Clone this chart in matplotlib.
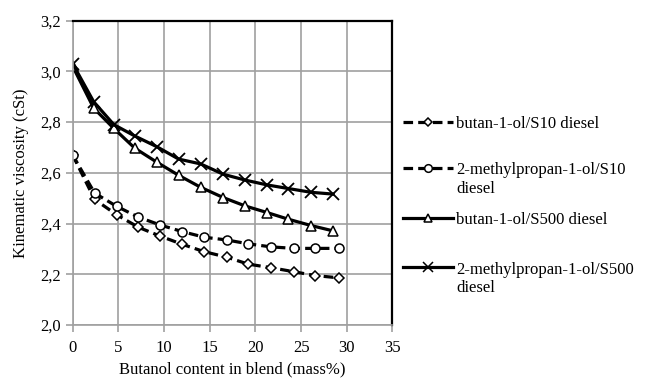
import matplotlib.pyplot as plt
from matplotlib.lines import Line2D
import numpy as np

plt.rcParams['font.family'] = ['Liberation Serif', 'DejaVu Serif']

# butanol content (mass%) and kinematic viscosity (cSt)
x_s10 = [0, 2.4, 4.8, 7.2, 9.6, 12.0, 14.4, 16.9, 19.2, 21.7, 24.2, 26.5, 29.1]
butanol_s10 = [2.67, 2.495, 2.435, 2.385, 2.35, 2.318, 2.289, 2.267, 2.240, 2.226, 2.210, 2.195, 2.186]
isobutanol_s10 = [2.67, 2.52, 2.468, 2.425, 2.394, 2.368, 2.346, 2.335, 2.320, 2.308, 2.302, 2.302, 2.302]

x_s500 = [0, 2.3, 4.5, 6.8, 9.2, 11.6, 14.0, 16.5, 18.9, 21.3, 23.6, 26.1, 28.5]
butanol_s500 = [3.02, 2.855, 2.775, 2.697, 2.642, 2.590, 2.543, 2.502, 2.469, 2.443, 2.417, 2.392, 2.371]
isobutanol_s500 = [3.03, 2.88, 2.79, 2.745, 2.703, 2.654, 2.635, 2.594, 2.571, 2.552, 2.538, 2.523, 2.516]

labels = ['butan-1-ol/S10 diesel', '2-methylpropan-1-ol/S10\ndiesel',
          'butan-1-ol/S500 diesel', '2-methylpropan-1-ol/S500\ndiesel']

W, H = 646, 381
fig = plt.figure(figsize=(W / 100, H / 100), dpi=100)
ax = fig.add_axes([0.1125, 0.147, 0.495, 0.799])

grid_c = '#a0a0a0'
dash = (0, (3, 1.6))
styles = [
    dict(ls=dash, marker='D', ms=5.5, mfc='white'),
    dict(ls=dash, marker='o', ms=6.5, mfc='white'),
    dict(ls='-', marker='^', ms=6.5, mfc='white'),
    dict(ls='-', marker='x', ms=8),
]
series = [(x_s10, butanol_s10), (x_s10, isobutanol_s10),
          (x_s500, butanol_s500), (x_s500, isobutanol_s500)]
for (xs, ys), st in zip(series, styles):
    ax.plot(xs, ys, color='black', lw=2.3, mec='black',
            mew=1.3 if st['marker'] == 'x' else 1.1, **st)

ax.set_xlim(0, 35)
ax.set_ylim(2.0, 3.2)
ax.set_xticks(np.arange(0, 36, 5))
ax.set_yticks(np.arange(2.0, 3.21, 0.2))
ax.set_yticklabels([f'{v:.1f}'.replace('.', ',') for v in np.arange(2.0, 3.21, 0.2)])
ax.grid(True, color=grid_c, lw=1.2)
ax.set_axisbelow(True)
for s in ['left', 'bottom']:
    ax.spines[s].set_color(grid_c)
    ax.spines[s].set_linewidth(1.2)
for s in ['top', 'right']:
    ax.spines[s].set_color('black')
    ax.spines[s].set_linewidth(1.6)
ax.tick_params(colors=grid_c, labelcolor='black', labelsize=12, length=5, width=1.2)
ax.tick_params(axis='x', pad=6)

ax.set_xlabel('Butanol content in blend (mass%)', fontsize=12, labelpad=4)
ax.set_ylabel('Kinematic viscosity (cSt)', fontsize=12, labelpad=8)

# legend drawn by hand so the key sits on the first line of wrapped labels
leg_y = [122, 168, 218, 267]
for y, lab, st in zip(leg_y, labels, styles):
    fy = 1 - y / H
    fig.add_artist(Line2D([403 / W, 453 / W], [fy, fy], transform=fig.transFigure,
                          color='black', lw=2.3, ls=st['ls']))
    fig.add_artist(Line2D([428 / W], [fy], transform=fig.transFigure, color='black',
                          marker=st['marker'], ms=st['ms'] - 1, mfc=st.get('mfc', 'black'),
                          mec='black', mew=1.1, ls='none'))
    fig.text(456 / W, fy + 5.5 / H, lab, fontsize=12, va='top', ha='left',
             linespacing=1.25)

fig.savefig('out.png', dpi=100)
